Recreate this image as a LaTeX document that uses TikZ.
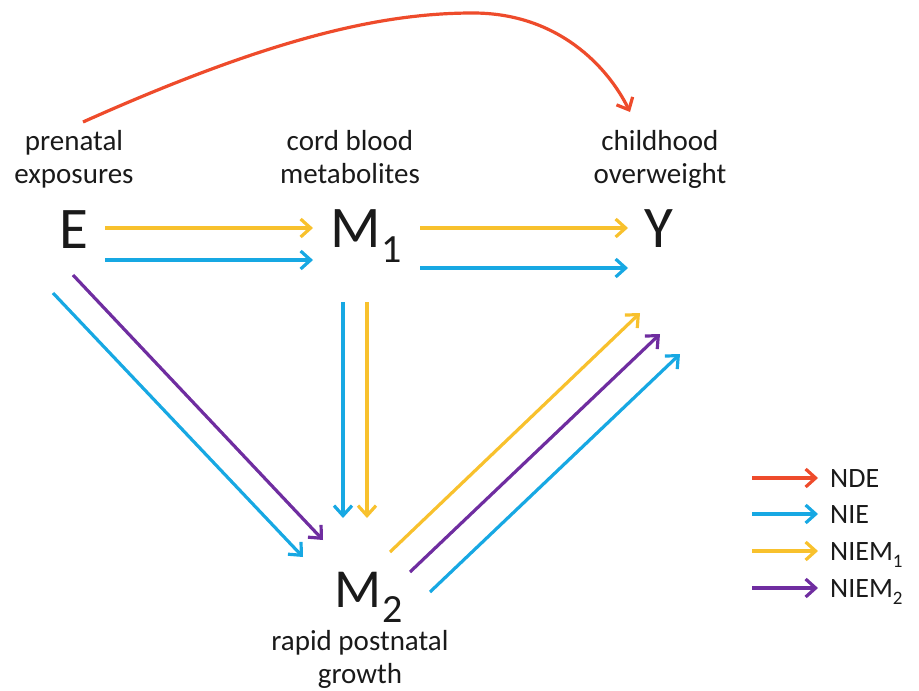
\documentclass[tikz,border=0pt]{standalone}
\usepackage{fontspec}
\setmainfont{Carlito}
\usetikzlibrary{arrows.meta}

\definecolor{nde}{HTML}{EE4B2B}
\definecolor{nie}{HTML}{17A8E3}
\definecolor{niemone}{HTML}{F8C12D}
\definecolor{niemtwo}{HTML}{6F2DA0}
\definecolor{ink}{HTML}{1A1A1A}

% lowered subscript for the large variable letters
\newcommand\varsub[1]{\kern1pt\raisebox{-15pt}{\fontsize{40}{40}\selectfont #1}}
% lowered subscript for the legend entries
\newcommand\keysub[1]{\raisebox{-7pt}{\fontsize{19}{19}\selectfont #1}}

\begin{document}
\begin{tikzpicture}[x=1pt, y=-1pt,
  var/.style={font=\fontsize{59}{59}\selectfont, text=ink, inner sep=0pt, anchor=base},
  lbl/.style={font=\fontsize{29}{33}\selectfont, text=ink, align=center, inner sep=0pt, anchor=base},
  keytext/.style={font=\fontsize{28}{28}\selectfont, text=ink, inner sep=0pt, anchor=base west},
  effect/.style={line width=3.2pt, -{Straight Barb[length=10pt,width=18pt]}}]

\useasboundingbox (0,0) rectangle (919,691);

% variables
\node[var] (E)  at (74,248)  {E};
\node[var] (M1) at (366,247) {M\varsub{1}};
\node[var] (Y)  at (659,247) {Y};
\node[var, font=\fontsize{55}{55}\selectfont] (M2) at (369,607) {M\varsub{2}};

% descriptions (anchored on the baseline of their last line)
\node[lbl] (Lpre)   at (74,183)  {prenatal\\exposures};
\node[lbl] (Lcord)  at (350,183) {cord blood\\metabolites};
\node[lbl] (Lchild) at (660,183) {childhood\\overweight};
\node[lbl] (Lgrow)  at (360,683) {rapid postnatal\\growth};

% E -> M1
\draw[effect, niemone] ([shift={(31,-20)}]E.base) -- ([shift={(-53,-19)}]M1.base);
\draw[effect, nie]     ([shift={(31,12)}]E.base)  -- ([shift={(-53,13)}]M1.base);

% M1 -> Y
\draw[effect, niemone] ([shift={(54,-19)}]M1.base) -- ([shift={(-31,-19)}]Y.base);
\draw[effect, nie]     ([shift={(54,21)}]M1.base)  -- ([shift={(-31,21)}]Y.base);

% E -> M2
\draw[effect, niemtwo] ([shift={(-1,27)}]E.base)  -- ([shift={(-46,-67)}]M2.base);
\draw[effect, nie]     ([shift={(-21,45)}]E.base) -- ([shift={(-66,-50)}]M2.base);

% M1 -> M2
\draw[effect, nie]     ([shift={(-23,55)}]M1.base) -- ([shift={(-26,-89)}]M2.base);
\draw[effect, niemone] ([shift={(1,55)}]M1.base)   -- ([shift={(-2,-89)}]M2.base);

% M2 -> Y
\draw[effect, niemone] ([shift={(21,-55)}]M2.base) -- ([shift={(-19,66)}]Y.base);
\draw[effect, niemtwo] ([shift={(41,-35)}]M2.base) -- ([shift={(1,87)}]Y.base);
\draw[effect, nie]     ([shift={(61,-15)}]M2.base) -- ([shift={(21,107)}]Y.base);

% direct effect arching over the top
\coordinate (ndetop) at (473,13);
\draw[effect, nde] ([shift={(9,-126)}]E.base)
  .. controls +(190,-85) and +(-90,0) .. (ndetop)
  .. controls +(85,0) and +(-22,-45) .. ([shift={(-29,-135)}]Y.base);

% legend
\node[keytext] (kNDE)  at (830,487) {NDE};
\node[keytext] (kNIE)  at (830,523) {NIE};
\node[keytext] (kNIEa) at (830,560) {NIEM\keysub{1}};
\node[keytext] (kNIEb) at (830,597) {NIEM\keysub{2}};
\draw[effect, nde]     ([shift={(-78,-9)}]kNDE.base west)  -- ([shift={(-12,-9)}]kNDE.base west);
\draw[effect, nie]     ([shift={(-78,-9)}]kNIE.base west)  -- ([shift={(-12,-9)}]kNIE.base west);
\draw[effect, niemone] ([shift={(-78,-9)}]kNIEa.base west) -- ([shift={(-12,-9)}]kNIEa.base west);
\draw[effect, niemtwo] ([shift={(-78,-9)}]kNIEb.base west) -- ([shift={(-12,-9)}]kNIEb.base west);

\end{tikzpicture}
\end{document}
